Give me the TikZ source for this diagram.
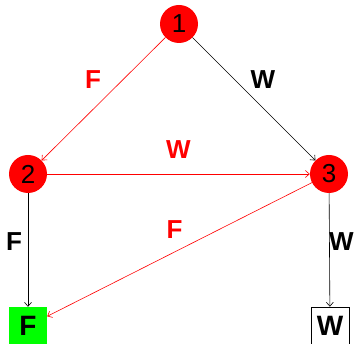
\documentclass[tikz,border=0pt]{standalone}
\usepackage{fontspec}
\setmainfont{Liberation Sans}
\usetikzlibrary{arrows.meta}
\begin{document}
\begin{tikzpicture}[x=1pt,y=1pt,
  state/.style={circle,fill=red,minimum size=38pt,inner sep=0pt,font=\fontsize{26}{26}\selectfont},
  term/.style={rectangle,minimum size=38pt,inner sep=0pt,font=\fontsize{28}{28}\selectfont\bfseries},
  edge/.style={line width=0.6pt,-{Straight Barb[length=4pt,width=7pt]}},
  lab/.style={font=\fontsize{26}{26}\selectfont\bfseries,inner sep=0pt}]
\useasboundingbox (0,0) rectangle (357,344);
\node[state] (n1) at (179,320) {1};
\node[state] (n2) at (28,170) {2};
\node[state] (n3) at (329,170) {3};
\node[term,fill=green] (tf) at (28,18) {F};
\node[term,draw=black,fill=white,line width=0.6pt] (tw) at (330,18) {W};
\draw[edge,red] (n1) -- (n2) node[midway,lab,xshift=-10.5pt,yshift=19pt] {F};
\draw[edge,black] (n1) -- (n3) node[midway,lab,xshift=9pt,yshift=19pt] {W};
\draw[edge,red] (n2) -- (n3) node[midway,lab,yshift=24pt] {W};
\draw[edge,black] (n2) -- (tf) node[midway,lab,xshift=-14pt,yshift=8pt] {F};
\draw[edge,red] (n3) -- (tf) node[midway,lab,xshift=-5pt,yshift=20pt] {F};
\draw[edge,black] (n3) -- (tw) node[midway,lab,xshift=12pt,yshift=8pt] {W};
\end{tikzpicture}
\end{document}
